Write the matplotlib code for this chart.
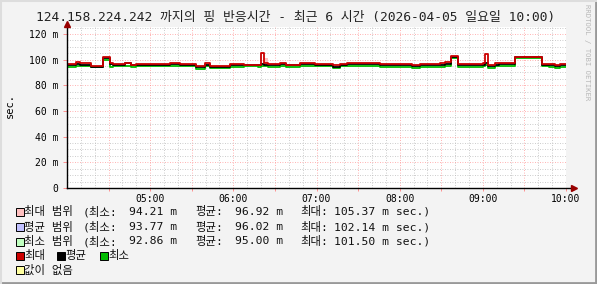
import matplotlib
matplotlib.use('Agg')
import matplotlib.pyplot as plt
import matplotlib.patches as mpatches

FONT = ['DejaVu Sans Mono', 'Noto Sans CJK KR']
plt.rcParams['font.family'] = FONT

# colours (rrdtool style)
clrMax = '#cc0000'
clrAvg = '#000000'
clrMin = '#00bb00'
clrMaxRng = '#ffc0c0'
clrAvgRng = '#c0c0ff'
clrMinRng = '#c0ffc0'
clrUnknown = '#ffffa0'

# --- data : segment start (minutes after 04:00) and values (ms) ---
seg_start = [0, 6.5, 9.4, 17.3, 26, 31, 33, 41.8, 46, 50, 60, 74, 81.5, 93, 99.5, 103,
             117.5, 128, 137.7, 140, 142, 145, 153.6, 158, 168, 179, 192, 197, 202,
             225.7, 240, 248.7, 254.5, 269, 273, 277, 282, 285, 300, 301.5, 303.5,
             308.6, 312, 323, 342.5, 348, 352, 355.5]
max_vals = [96.5, 98.0, 97.0, 95.0, 102.0, 97.0, 96.5, 97.5, 96.0, 96.5, 96.5, 97.5, 96.5,
            95.0, 97.5, 95.0, 96.5, 96.0, 96.0, 105.4, 97.0, 96.5, 97.0, 96.0, 97.0, 96.5,
            96.0, 96.5, 97.5, 96.5, 96.5, 96.0, 96.5, 97.5, 98.5, 103.0, 96.5, 96.5, 97.0,
            104.4, 96.0, 97.0, 97.5, 102.2, 96.5, 96.8, 96.0, 96.5]
avg_vals = [95.5, 96.5, 96.0, 94.5, 101.5, 96.5, 96.0, 97.0, 95.5, 95.5, 96.0, 96.5, 96.0,
            94.5, 96.0, 94.5, 95.5, 95.5, 95.5, 96.5, 96.0, 95.5, 96.5, 95.5, 96.5, 96.0,
            94.5, 96.0, 96.5, 96.0, 95.5, 95.0, 95.5, 96.0, 96.5, 102.0, 95.5, 96.0, 96.0,
            97.5, 95.0, 96.0, 96.5, 101.8, 95.5, 96.0, 95.0, 95.5]
min_vals = [94.0, 95.0, 95.0, 94.0, 100.0, 94.5, 95.0, 95.0, 94.2, 95.0, 95.0, 95.0, 95.0,
            93.0, 95.0, 93.5, 94.5, 94.8, 94.5, 95.0, 95.0, 94.5, 95.0, 94.5, 95.0, 95.0,
            93.5, 95.0, 95.0, 94.5, 94.5, 93.5, 94.5, 94.5, 95.0, 101.0, 94.0, 94.5, 95.0,
            95.5, 93.5, 95.0, 95.0, 101.5, 95.0, 94.5, 93.5, 94.5]
# max range band upper edge (only differs right after the 06:20 spike)
max_rng_hi = list(max_vals)
max_rng_hi[20] = 101.0
t_end = 360

x_tick_pos = [60, 120, 180, 240, 300, 360]
x_tick_lbl = ['05:00', '06:00', '07:00', '08:00', '09:00', '10:00']
y_tick_pos = [0, 20, 40, 60, 80, 100, 120]
y_tick_lbl = ['0', '20 m', '40 m', '60 m', '80 m', '100 m', '120 m']

title = '124.158.224.242 까지의 핑 반응시간 - 최근 6 시간 (2026-04-05 일요일 10:00)'
leg_names = ['최대 범위', '평균 범위', '최소 범위']
leg_min = ['94.21 m', '93.77 m', '92.86 m']
leg_avg = ['96.92 m', '96.02 m', '95.00 m']
leg_max = ['105.37 m sec.)', '102.14 m sec.)', '101.50 m sec.)']

W, H = 597, 284
fig = plt.figure(figsize=(W / 100, H / 100), dpi=100, facecolor='#f3f3f3')

def fx(px):
    return px / W

def fy(py):
    return 1 - py / H

ax = fig.add_axes([fx(67), fy(188), fx(566) - fx(67), fy(27) - fy(188)])
ax.set_facecolor('white')
ax.set_xlim(0, t_end)
ax.set_ylim(0, 125.4)
for s in ax.spines.values():
    s.set_visible(False)

# grid
for m in range(10, t_end + 1, 10):
    if m % 30 == 0:
        ax.axvline(m, color='#ff8080', lw=0.6, ls=(0, (1, 2)), alpha=0.8, zorder=1)
    else:
        ax.axvline(m, color='#bbbbbb', lw=0.6, ls=(0, (1, 2)), zorder=1)
for v in range(5, 126, 5):
    if v % 20 == 0:
        ax.axhline(v, color='#ff8080', lw=0.6, ls=(0, (1, 2)), alpha=0.8, zorder=1)
    else:
        ax.axhline(v, color='#bbbbbb', lw=0.6, ls=(0, (1, 2)), zorder=1)

t = seg_start + [t_end]
mx = max_vals + [max_vals[-1]]
av = avg_vals + [avg_vals[-1]]
mn = min_vals + [min_vals[-1]]
mrh = max_rng_hi + [max_rng_hi[-1]]

ax.fill_between(t, mx, mrh, step='post', color=clrMaxRng, lw=0, zorder=2)
ax.step(t, mn, where='post', color=clrMin, lw=1.3, zorder=3)
ax.step(t, av, where='post', color=clrAvg, lw=1.3, zorder=4)
ax.step(t, mx, where='post', color=clrMax, lw=1.3, zorder=5)

# axes lines with arrows
ax.plot([0, t_end + 5], [0, 0], color='black', lw=1, clip_on=False, zorder=6)
ax.plot([0, 0], [0, 127], color='black', lw=1, clip_on=False, zorder=6)
ax.plot([t_end + 5.5], [0], marker='>', color='#990000', ms=4, clip_on=False, zorder=7)
ax.plot([0], [128], marker='^', color='#990000', ms=4, clip_on=False, zorder=7)

ax.set_xticks(range(30, t_end + 1, 30))
ax.set_xticklabels(['' if m % 60 else x_tick_lbl[x_tick_pos.index(m)] for m in range(30, t_end + 1, 30)],
                   fontsize=7, family=FONT)
ax.set_yticks(y_tick_pos)
ax.set_yticklabels(y_tick_lbl, fontsize=7, family=FONT)
ax.tick_params(axis='x', length=2, width=0.6, color='#ff8080', pad=2)
ax.tick_params(axis='y', length=3, width=0.6, color='#ff8080', pad=3)

# texts
fig.text(fx(36), fy(18), title, fontsize=9.3, family=FONT, va='center', ha='left', color='#222222')
fig.text(fx(10), fy(106), 'sec.', fontsize=7.5, rotation=90, va='center', ha='center', family=FONT)
fig.text(fx(587), fy(4), 'RRDTOOL / TOBI OETIKER', fontsize=5.2, rotation=270, va='top', ha='center',
         color='#b8b8b8', family=FONT)

def box(px, py, c):
    fig.patches.append(mpatches.Rectangle((fx(px), fy(py + 4)), 8 / W, 8 / H, facecolor=c,
                                          edgecolor='black', lw=0.7, transform=fig.transFigure))

rows_y = [212, 227, 241.5]
for i, c in enumerate([clrMaxRng, clrAvgRng, clrMinRng]):
    yy = rows_y[i]
    box(16, yy, c)
    kw = dict(fontsize=8.2, va='center', family=FONT, color='#111111')
    fig.text(fx(24), fy(yy), leg_names[i], **kw)
    fig.text(fx(83), fy(yy), '(최소:', **kw)
    fig.text(fx(177), fy(yy), leg_min[i], ha='right', **kw)
    fig.text(fx(195), fy(yy), '평균:', **kw)
    fig.text(fx(283), fy(yy), leg_avg[i], ha='right', **kw)
    fig.text(fx(300), fy(yy), '최대:', **kw)
    fig.text(fx(334), fy(yy), leg_max[i], **kw)

kw = dict(fontsize=8.2, va='center', family=FONT, color='#111111')
for px, c, name in [(16, clrMax, '최대'), (57, clrAvg, '평균'), (100, clrMin, '최소')]:
    box(px, 256, c)
    fig.text(fx(px + 8), fy(256), name, **kw)
box(16, 270, clrUnknown)
fig.text(fx(24), fy(270), '값이 없음', **kw)

# frame
fig.lines.append(plt.Line2D([0, 1], [fy(283), fy(283)], color='#999999', lw=2, transform=fig.transFigure))
fig.lines.append(plt.Line2D([fx(596), fx(596)], [0, 1], color='#999999', lw=2, transform=fig.transFigure))
fig.lines.append(plt.Line2D([0, 1], [fy(0.5), fy(0.5)], color='#dddddd', lw=1.5, transform=fig.transFigure))
fig.lines.append(plt.Line2D([fx(0.5), fx(0.5)], [0, 1], color='#dddddd', lw=1.5, transform=fig.transFigure))

fig.savefig('out.png', dpi=100, facecolor=fig.get_facecolor())
